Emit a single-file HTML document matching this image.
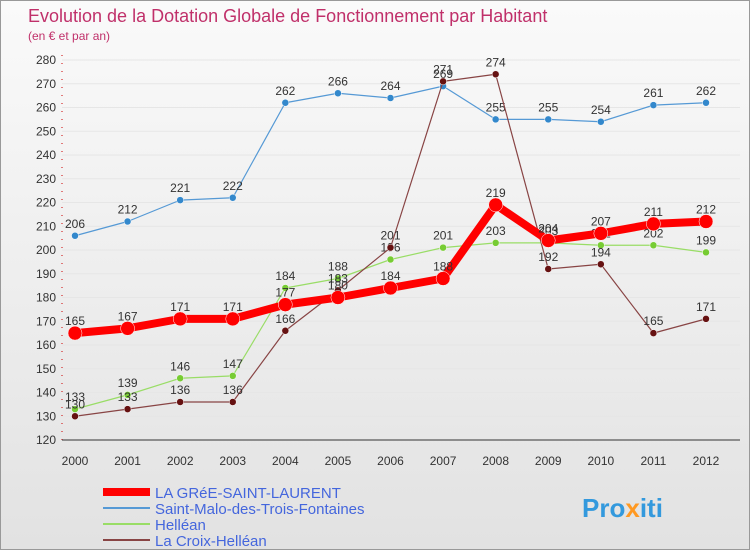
<!DOCTYPE html>
<html><head><meta charset="utf-8"><style>
body{margin:0;width:750px;height:550px;overflow:hidden;font-family:"Liberation Sans",sans-serif}
</style></head><body>
<svg width="750" height="550" xmlns="http://www.w3.org/2000/svg">
<defs><linearGradient id="bg" x1="0" y1="0" x2="0" y2="1"><stop offset="0" stop-color="#fafafa"/><stop offset="1" stop-color="#e2e2e2"/></linearGradient></defs>
<rect x="0.5" y="0.5" width="749" height="549" fill="url(#bg)" stroke="#999"/>
<text x="28" y="22" font-size="18" fill="#c0306a">Evolution de la Dotation Globale de Fonctionnement par Habitant</text>
<text x="28" y="40" font-size="12" fill="#c0306a">(en € et par an)</text>
<g id="axes"></g><g id="series"></g>
<g>
<line x1="103" y1="492" x2="150" y2="492" stroke="#f00" stroke-width="8"/>
<text x="155" y="498" font-size="15" fill="#4466dd">LA GRéE-SAINT-LAURENT</text>
<line x1="103" y1="508" x2="150" y2="508" stroke="#5599d5" stroke-width="2"/>
<text x="155" y="514" font-size="15" fill="#4466dd">Saint-Malo-des-Trois-Fontaines</text>
<line x1="103" y1="524" x2="150" y2="524" stroke="#99dd66" stroke-width="2"/>
<text x="155" y="530" font-size="15" fill="#4466dd">Helléan</text>
<line x1="103" y1="540" x2="150" y2="540" stroke="#884444" stroke-width="2"/>
<text x="155" y="546" font-size="15" fill="#4466dd">La Croix-Helléan</text>
</g>
<text x="582" y="517" font-size="26" font-weight="bold" fill="#3399dd">Pro<tspan fill="#ff9922">x</tspan>iti</text>
</svg>
<script>
const years=[2000,2001,2002,2003,2004,2005,2006,2007,2008,2009,2010,2011,2012];
const yTicks=[120,130,140,150,160,170,180,190,200,210,220,230,240,250,260,270,280];
const laGree=[165,167,171,171,177,180,184,188,219,204,207,211,212];
const saintMalo=[206,212,221,222,262,266,264,269,255,255,254,261,262];
const hellean=[133,139,146,147,184,188,196,201,203,203,202,202,199];
const laCroix=[130,133,136,136,166,183,201,271,274,192,194,165,171];
const NS="http://www.w3.org/2000/svg";
const xS=i=>75+i*(706-75)/12;
const yS=v=>60+(280-v)*380/160;
function mk(t,a,p){const e=document.createElementNS(NS,t);for(const k in a)e.setAttribute(k,a[k]);p.appendChild(e);return e;}
const ax=document.getElementById('axes');
const grid=mk('rect',{x:62,y:60,width:678,height:380,fill:'none'},ax);


yTicks.forEach(v=>{
 const l=mk('line',{x1:62,x2:740,y1:yS(v),y2:yS(v),stroke:'#e6e6e6'},ax);
 
 
 const t=mk('text',{x:56,y:yS(v)+4,'font-size':12,'text-anchor':'end',fill:'#333'},ax);t.textContent=v;
 
 
});
const yl=mk('line',{x1:62,x2:62,y1:55,y2:440,stroke:'#c00','stroke-dasharray':'1,7'},ax);


const xl=mk('line',{x1:62,x2:740,y1:440,y2:440,stroke:'#333'},ax);


years.forEach((y,i)=>{
 const t=mk('text',{x:xS(i),y:465,'font-size':12,'text-anchor':'middle',fill:'#333'},ax);t.textContent=y;
 
 
});
const sg=document.getElementById('series');
function draw(name,data,color,w,r,dot){
 const g=mk('g',{},sg);
 
 
 const p=mk('polyline',{points:data.map((v,i)=>xS(i)+','+yS(v)).join(' '),fill:'none',stroke:color,'stroke-width':w,'stroke-linejoin':'round'},g);
 
 
 data.forEach((v,i)=>{
  const c=mk('circle',{cx:xS(i),cy:yS(v),r:r,fill:dot,stroke:'#fff','stroke-width':0.5},g);
  
  
  const t=mk('text',{x:xS(i),y:yS(v)-8,'font-size':12,'text-anchor':'middle',fill:'#333'},g);t.textContent=v;
  
  
 });
}
draw('saint-malo',saintMalo,'#5599d5',1.2,3.5,'#3388cc');
draw('hellean',hellean,'#99dd66',1.2,3.5,'#77cc33');
draw('la-croix',laCroix,'#884444',1.2,3.5,'#661111');
draw('la-gree',laGree,'#ff0000',8,7,'#ff0000');
</script>
</body></html>
